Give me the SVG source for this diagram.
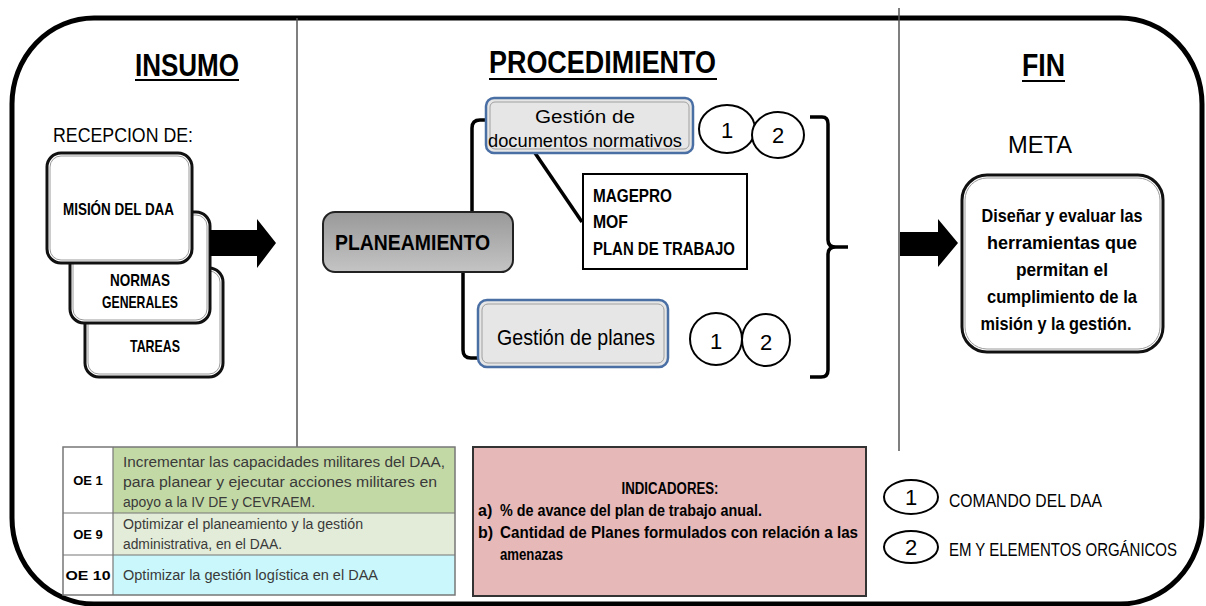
<svg xmlns="http://www.w3.org/2000/svg" width="1206" height="606" viewBox="0 0 1206 606">
<defs>
<linearGradient id="gPlan" x1="0" y1="0" x2="0" y2="1">
<stop offset="0" stop-color="#999999"/>
<stop offset="1" stop-color="#c4c4c4"/>
</linearGradient>
</defs>
<style>
text{font-family:"Liberation Sans",Arial,sans-serif;fill:#000}
.t{font-weight:bold;font-size:31px}
.b{font-weight:bold}
.stack{fill:#fff;stroke:#111;stroke-width:3}
.sin{fill:none;stroke:#9a9a9a;stroke-width:1}
.gest{fill:#e6e6e6;stroke:#4a6fa5;stroke-width:2.5}
.gin{fill:none;stroke:#a0a0a0;stroke-width:1}
.conn{fill:none;stroke:#000;stroke-width:3.5;stroke-linejoin:round}
.circ{fill:#fff;stroke:#000;stroke-width:2}
.num{font-size:22px;text-anchor:middle}
.tab{font-size:14px;fill:#3a3a3a}
.oe{font-size:13px;font-weight:bold;text-anchor:middle}
.ind{font-size:16px;font-weight:bold}
</style>
<rect width="1206" height="606" fill="#fff"/>
<g id="frame">
<rect x="12" y="18" width="1190" height="586" rx="82" ry="86" fill="none" stroke="#000" stroke-width="5"/>
<line x1="297" y1="18" x2="297" y2="447" stroke="#555" stroke-width="1.5"/>
<line x1="899" y1="8" x2="899" y2="451" stroke="#555" stroke-width="1.5"/>
</g>
<g id="titles">
<text class="t" x="135" y="76" textLength="104" lengthAdjust="spacingAndGlyphs">INSUMO</text>
<line x1="135" y1="80" x2="239" y2="80" stroke="#000" stroke-width="2"/>
<text class="t" x="489" y="73" textLength="227" lengthAdjust="spacingAndGlyphs">PROCEDIMIENTO</text>
<line x1="489" y1="79" x2="717" y2="79" stroke="#000" stroke-width="2"/>
<text class="t" x="1022" y="76" textLength="43" lengthAdjust="spacingAndGlyphs">FIN</text>
<line x1="1022" y1="81" x2="1065" y2="81" stroke="#000" stroke-width="2"/>
<text x="53" y="142" font-size="20" textLength="140" lengthAdjust="spacingAndGlyphs">RECEPCION DE:</text>
<text x="1008" y="153" font-size="23" textLength="64" lengthAdjust="spacingAndGlyphs">META</text>
</g>
<g id="tareas">
<rect class="stack" x="85" y="268" width="138" height="109" rx="14"/>
<rect class="sin" x="88" y="271" width="132" height="103" rx="11"/>
<text class="b" x="155" y="352" font-size="17" text-anchor="middle" textLength="50" lengthAdjust="spacingAndGlyphs">TAREAS</text>
</g>
<g id="normas">
<rect class="stack" x="70" y="212" width="140" height="111" rx="14"/>
<rect class="sin" x="73" y="215" width="134" height="105" rx="11"/>
<text class="b" x="140" y="286" font-size="17" text-anchor="middle" textLength="60" lengthAdjust="spacingAndGlyphs">NORMAS</text>
<text class="b" x="140" y="308" font-size="17" text-anchor="middle" textLength="76" lengthAdjust="spacingAndGlyphs">GENERALES</text>
</g>
<g id="mision">
<rect class="stack" x="47" y="153" width="145" height="110" rx="14"/>
<rect class="sin" x="50" y="156" width="139" height="104" rx="11"/>
<text class="b" x="63" y="215" font-size="17" textLength="111" lengthAdjust="spacingAndGlyphs">MISIÓN DEL DAA</text>
</g>
<g id="connectors">
<polygon points="210,230 257,230 257,219 276,243 257,268 257,256 210,256" fill="#000"/>
<polygon points="900,232 938,232 938,219 958,243 938,267 938,256 900,256" fill="#000"/>
<path class="conn" d="M472 212 V128 Q472 120 480 120 H488"/>
<path class="conn" d="M463 272 V350 Q463 358 471 358 H480"/>
<path class="conn" d="M535 153 L582 222"/>
<path class="conn" d="M810 117 H822 Q828 117 828 124 V240 Q828 247 836 247 H848 M836 247 Q828 247 828 254 V370 Q828 377 821 377 H810"/>
</g>
<g id="planeamiento">
<rect x="323" y="212" width="190" height="60" rx="12" fill="url(#gPlan)" stroke="#222" stroke-width="2"/>
<text class="b" x="335" y="250" font-size="22" textLength="155" lengthAdjust="spacingAndGlyphs">PLANEAMIENTO</text>
</g>
<g id="gestion-docs">
<rect class="gest" x="486" y="98" width="207" height="55" rx="8"/>
<rect class="gin" x="490" y="102" width="199" height="47" rx="5"/>
<text x="585" y="123" font-size="18" text-anchor="middle" textLength="100" lengthAdjust="spacingAndGlyphs">Gestión de</text>
<text x="585" y="147" font-size="18" text-anchor="middle" textLength="194" lengthAdjust="spacingAndGlyphs">documentos normativos</text>
</g>
<g id="circles-docs">
<ellipse class="circ" cx="727" cy="129" rx="28" ry="24"/>
<ellipse class="circ" cx="778" cy="135" rx="26" ry="23"/>
<text class="num" x="727" y="138">1</text>
<text class="num" x="778" y="143">2</text>
</g>
<g id="magepro">
<rect x="583" y="174" width="164" height="95" fill="#fff" stroke="#000" stroke-width="2"/>
<text class="b" x="593" y="202" font-size="18" textLength="79" lengthAdjust="spacingAndGlyphs">MAGEPRO</text>
<text class="b" x="593" y="228" font-size="18" textLength="35" lengthAdjust="spacingAndGlyphs">MOF</text>
<text class="b" x="593" y="255" font-size="18" textLength="142" lengthAdjust="spacingAndGlyphs">PLAN DE TRABAJO</text>
</g>
<g id="gestion-planes">
<rect class="gest" x="478" y="300" width="190" height="67" rx="9"/>
<rect class="gin" x="482" y="304" width="182" height="59" rx="6"/>
<text x="576" y="345" font-size="22" text-anchor="middle" textLength="158" lengthAdjust="spacingAndGlyphs">Gestión de planes</text>
</g>
<g id="circles-planes">
<ellipse class="circ" cx="716" cy="339" rx="26" ry="26"/>
<ellipse class="circ" cx="766" cy="340" rx="24" ry="26"/>
<text class="num" x="716" y="349">1</text>
<text class="num" x="766" y="350">2</text>
</g>
<g id="meta">
<rect x="962" y="175" width="201" height="177" rx="25" fill="#fff" stroke="#111" stroke-width="3"/>
<rect x="965" y="178" width="195" height="171" rx="22" fill="none" stroke="#9a9a9a" stroke-width="1"/>
<g class="b" font-size="19" text-anchor="middle">
<text x="1062" y="222" textLength="161" lengthAdjust="spacingAndGlyphs">Diseñar y evaluar las</text>
<text x="1062" y="249" textLength="150" lengthAdjust="spacingAndGlyphs">herramientas que</text>
<text x="1062" y="276" textLength="92" lengthAdjust="spacingAndGlyphs">permitan el</text>
<text x="1062" y="303" textLength="150" lengthAdjust="spacingAndGlyphs">cumplimiento de la</text>
<text x="1056" y="330" textLength="151" lengthAdjust="spacingAndGlyphs">misión y la gestión.</text>
</g>
</g>
<g id="legend">
<ellipse class="circ" cx="911" cy="497" rx="27" ry="17"/>
<text class="num" x="911" y="505" font-size="20">1</text>
<text x="949" y="507" font-size="19" textLength="153" lengthAdjust="spacingAndGlyphs">COMANDO DEL DAA</text>
<ellipse class="circ" cx="911" cy="547" rx="27" ry="16"/>
<text class="num" x="911" y="555" font-size="20">2</text>
<text x="949" y="556" font-size="19" textLength="228" lengthAdjust="spacingAndGlyphs">EM Y ELEMENTOS ORGÁNICOS</text>
</g>
<g id="oe-table">
<rect x="63" y="447" width="50" height="66" fill="#fff"/>
<rect x="113" y="447" width="342" height="66" fill="#c3d9a5"/>
<rect x="63" y="513" width="50" height="42" fill="#fff"/>
<rect x="113" y="513" width="342" height="42" fill="#e3ecd8"/>
<rect x="63" y="555" width="50" height="40" fill="#fff"/>
<rect x="113" y="555" width="342" height="40" fill="#c9f7fb"/>
<rect x="63" y="447" width="392" height="148" fill="none" stroke="#777" stroke-width="1.5"/>
<line x1="113" y1="447" x2="113" y2="595" stroke="#777" stroke-width="1.2"/>
<line x1="63" y1="513" x2="455" y2="513" stroke="#777" stroke-width="1.2"/>
<line x1="63" y1="555" x2="455" y2="555" stroke="#777" stroke-width="1.2"/>
<text class="oe" x="88" y="485">OE 1</text>
<text class="oe" x="88" y="539">OE 9</text>
<text class="oe" x="88" y="580" textLength="45" lengthAdjust="spacingAndGlyphs">OE 10</text>
<text class="tab" x="123" y="467" textLength="322" lengthAdjust="spacingAndGlyphs">Incrementar las capacidades  militares del DAA,</text>
<text class="tab" x="123" y="487" textLength="314" lengthAdjust="spacingAndGlyphs">para planear y ejecutar acciones militares en</text>
<text class="tab" x="123" y="507" textLength="192" lengthAdjust="spacingAndGlyphs">apoyo  a la IV DE y CEVRAEM.</text>
<text class="tab" x="123" y="529" textLength="240" lengthAdjust="spacingAndGlyphs">Optimizar el planeamiento y la gestión</text>
<text class="tab" x="123" y="549" textLength="159" lengthAdjust="spacingAndGlyphs">administrativa, en el  DAA.</text>
<text class="tab" x="123" y="580" textLength="255" lengthAdjust="spacingAndGlyphs">Optimizar la gestión logística en el DAA</text>
</g>
<g id="indicadores">
<rect x="473" y="447" width="393" height="149" fill="#e6b8b8" stroke="#333" stroke-width="2"/>
<text class="ind" x="670" y="494" text-anchor="middle" textLength="97" lengthAdjust="spacingAndGlyphs">INDICADORES:</text>
<text class="ind" x="478" y="516">a)</text>
<text class="ind" x="500" y="516" textLength="262" lengthAdjust="spacingAndGlyphs">% de avance del plan de trabajo anual.</text>
<text class="ind" x="478" y="538">b)</text>
<text class="ind" x="500" y="538" textLength="358" lengthAdjust="spacingAndGlyphs">Cantidad de Planes formulados con relación a las</text>
<text class="ind" x="500" y="560" textLength="63" lengthAdjust="spacingAndGlyphs">amenazas</text>
</g>
</svg>
